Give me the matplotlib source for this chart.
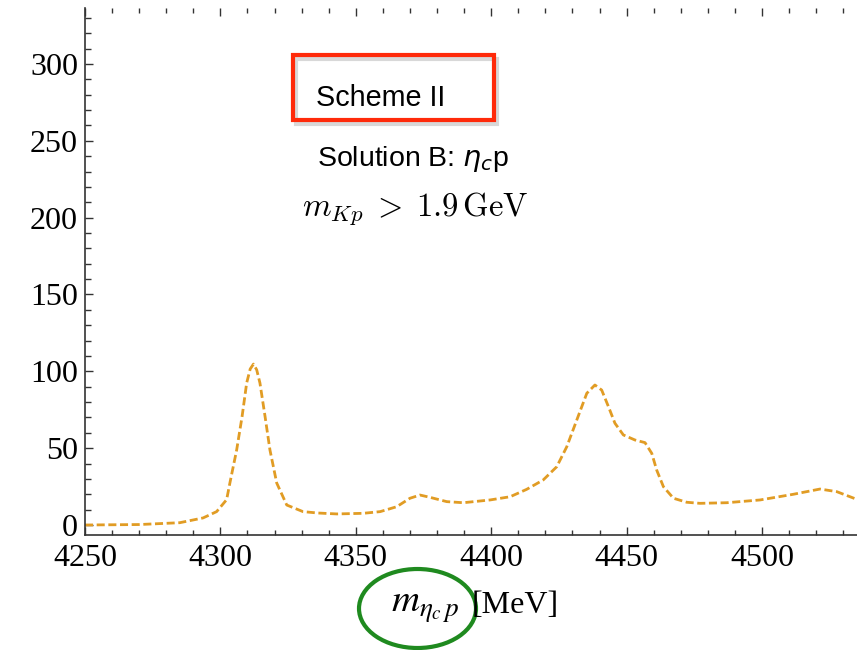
import matplotlib
matplotlib.use("Agg")
import matplotlib.pyplot as plt
import matplotlib.patheffects as pe
from matplotlib.patches import Rectangle, Ellipse
from matplotlib.ticker import MultipleLocator

# invariant mass of eta_c p (MeV) and event density
mass = [4250, 4270, 4285, 4293.6, 4298.6, 4302.3, 4303.5, 4306, 4308, 4309.7,
        4311, 4312.2, 4313.4, 4314.6, 4316.5, 4318.3, 4320.8, 4324.5, 4330.5,
        4336, 4343, 4352.7, 4359, 4365.1, 4370, 4373.7, 4377.4, 4383.6,
        4389.7, 4399.6, 4407, 4413.1, 4419.2, 4424.2, 4427.9, 4431.6, 4435.3,
        4438.3, 4440.8, 4443.3, 4445.7, 4448.8, 4453.1, 4456.8, 4459.3,
        4461.1, 4463.6, 4467.3, 4472.2, 4477.1, 4487, 4499.3, 4511.6, 4521.4,
        4527.6, 4535]
events = [0, 0.3, 1.5, 4.6, 8.7, 16.5, 27.3, 48.8, 70.5, 92.4,
          101.5, 104.7, 101, 92.4, 70.5, 48.8, 27.3, 13.0, 8.7,
          7.8, 7.2, 7.6, 8.7, 11.9, 17.4, 19.5, 18.0, 15.2,
          14.5, 16.3, 18.4, 23.2, 29.3, 37.9, 50.9, 68.3, 85.7,
          91.1, 87.8, 77.0, 66.2, 58.6, 55.3, 53.6, 46.6,
          35.8, 24.9, 17.4, 14.8, 14.1, 14.5, 16.3, 20.0, 23.4,
          21.7, 16.7]

x_ticks = [4250, 4300, 4350, 4400, 4450, 4500]
y_ticks = [0, 50, 100, 150, 200, 250, 300]

W, H = 857, 650
fig = plt.figure(figsize=(W / 100, H / 100), dpi=100)

# axes runs a bit past the right edge, like the cropped original
ax = fig.add_axes([85 / W, 1 - 535.3 / H, (897.4 - 85) / W, (535.3 - 8) / H])

line, = ax.plot(mass, events, color="#E19C24", lw=2.0, ls="--")
line.set_dashes((2.9, 1.3))

ax.set_xlim(4250, 4550)
ax.set_ylim(-6.7, 336.4)
ax.set_xticks(x_ticks)
ax.set_yticks(y_ticks)
ax.xaxis.set_minor_locator(MultipleLocator(10))
ax.yaxis.set_minor_locator(MultipleLocator(10))

frame = "#333333"
for side in ["top", "right"]:
    ax.spines[side].set_visible(False)
for side in ["left", "bottom"]:
    ax.spines[side].set_color(frame)
    ax.spines[side].set_linewidth(1.2)

ax.tick_params(which="both", direction="in", top=True, right=False,
               color=frame, width=1.0, labelsize=23)
ax.tick_params(which="major", length=5.5)
ax.tick_params(which="minor", length=3.5)
ax.tick_params(axis="y", which="minor", length=4.5)
ax.tick_params(axis="x", pad=6)
ax.tick_params(axis="y", pad=5)
for lab in ax.get_xticklabels() + ax.get_yticklabels():
    lab.set_family("Liberation Serif")

# annotations in figure pixels (top-left origin)
def fx(px):
    return px / W

def fy(py):
    return 1 - py / H

box = Rectangle((fx(293), fy(120)), (494 - 293) / W, (120 - 55) / H,
                transform=fig.transFigure, fill=False, edgecolor="#FF2A0A",
                lw=3.0, zorder=5)
box.set_path_effects([pe.SimpleLineShadow(offset=(2, -3), shadow_color="gray",
                                          alpha=0.3), pe.Normal()])
fig.patches.append(box)

fig.text(fx(316), fy(106), "Scheme II", family="Liberation Sans",
         fontsize=20.7, va="baseline", ha="left")
fig.text(fx(317), fy(166), r"Solution B: $\eta_c$p", family="Liberation Sans",
         fontsize=20.5, va="baseline", ha="left", math_fontfamily="dejavusans")
fig.text(fx(415), fy(215), r"$m_{Kp}\;>\;1.9\,\mathrm{GeV}$", fontsize=23.5,
         va="baseline", ha="center", math_fontfamily="cm")

fig.text(fx(460), fy(612), r"$m_{\eta_c\,p}$", fontsize=28, va="baseline",
         ha="right", math_fontfamily="stix")
fig.text(fx(472), fy(613), "[MeV]", family="Liberation Serif", fontsize=23,
         va="baseline", ha="left")

ring = Ellipse((fx(417.5), fy(608.5)), 117 / W, 79 / H, transform=fig.transFigure,
               fill=False, edgecolor="#1F8A1F", lw=3.0)
fig.patches.append(ring)

fig.savefig("out.png", dpi=100)
